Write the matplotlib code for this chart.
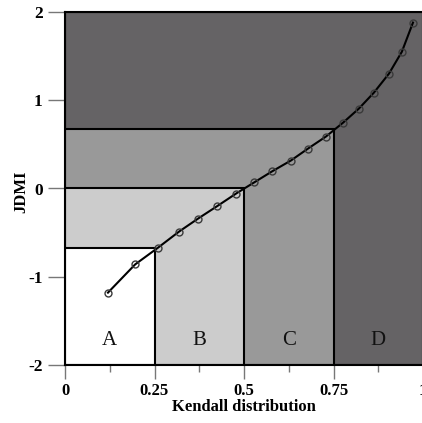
import matplotlib.pyplot as plt
from matplotlib.ticker import MultipleLocator

# quartile regions (nested from the origin corner)
region_labels = ["A", "B", "C", "D"]
region_x = [0.25, 0.5, 0.75, 1.0]
region_y = [-0.674, 0.0, 0.674, 2.0]
region_colors = ["#ffffff", "#cccccc", "#999999", "#656365"]

# empirical Kendall distribution vs JDMI
kendall = [0.12, 0.196, 0.26, 0.318, 0.372, 0.425, 0.478, 0.528, 0.578,
           0.631, 0.679, 0.729, 0.777, 0.821, 0.863, 0.905, 0.941, 0.972]
jdmi = [-1.18, -0.86, -0.67, -0.49, -0.34, -0.20, -0.057, 0.068, 0.193,
        0.317, 0.453, 0.589, 0.747, 0.906, 1.087, 1.302, 1.55, 1.88]

plt.rcParams["font.family"] = ["Liberation Serif", "DejaVu Serif"]
plt.rcParams["axes.unicode_minus"] = False

fig = plt.figure(figsize=(4.22, 4.23), dpi=100)
ax = fig.add_axes([65 / 422, 58 / 423, 358 / 422, 353 / 423])

y0 = -2
for i in range(len(region_labels) - 1, -1, -1):
    ax.bar(0, region_y[i] - y0, width=region_x[i], bottom=y0, align="edge",
           color=region_colors[i], edgecolor="black", linewidth=1.5, zorder=1)
for i, lab in enumerate(region_labels):
    xc = region_x[i] - 0.125
    ax.text(xc, -1.72, lab, ha="center", va="center", fontsize=15,
            color="#111111", zorder=3)

ax.plot(kendall, jdmi, color="black", linewidth=1.5, zorder=4)
ax.plot(kendall, jdmi, linestyle="none", marker="o", markersize=5,
        markerfacecolor="none", markeredgecolor="#3a3a3a",
        markeredgewidth=1.0, zorder=5)

ax.set_xlim(0, 1)
ax.set_ylim(-2, 2)
ax.xaxis.set_major_locator(MultipleLocator(0.25))
ax.xaxis.set_minor_locator(MultipleLocator(0.125))
ax.yaxis.set_major_locator(MultipleLocator(1))
ax.set_xticks([0, 0.25, 0.5, 0.75, 1.0])
ax.set_xticklabels(["0", "0.25", "0.5", "0.75", "1"])

ax.tick_params(axis="y", which="major", length=12, width=1, color="#777777",
               pad=4, labelsize=12.5)
ax.tick_params(axis="x", which="major", length=10, width=1, color="#777777",
               pad=3, labelsize=12)
ax.tick_params(axis="x", which="minor", length=5, width=1, color="#777777")
for lab in ax.get_xticklabels() + ax.get_yticklabels():
    lab.set_fontweight("bold")

for sp in ax.spines.values():
    sp.set_linewidth(1.5)
    sp.set_zorder(6)

ax.set_xlabel("Kendall distribution", fontsize=12, fontweight="bold",
              labelpad=0)
ax.set_ylabel("JDMI", fontsize=12, fontweight="bold")
ax.yaxis.set_label_coords(-0.123, 0.49)
ax.yaxis.label.set_verticalalignment("center")

fig.savefig("out.png", dpi=100)
